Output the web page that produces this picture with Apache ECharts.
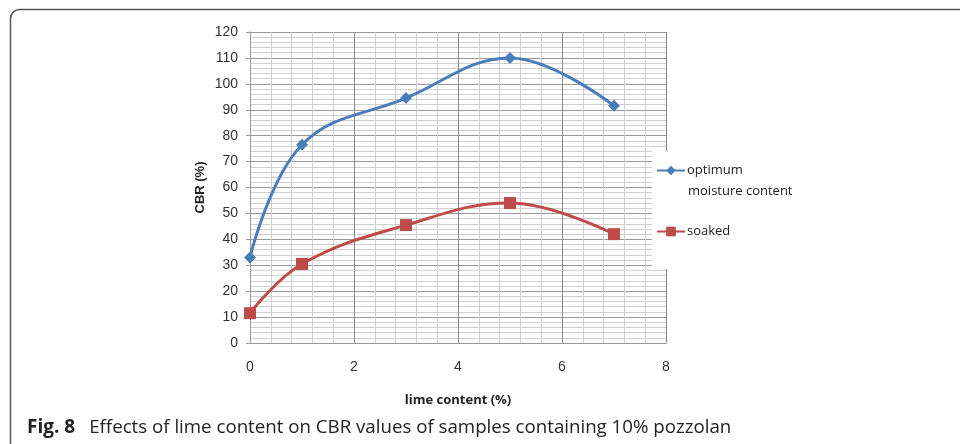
<!DOCTYPE html>
<html>
<head>
<meta charset="utf-8">
<script src="https://cdn.jsdelivr.net/npm/echarts@6/dist/echarts.min.js"></script>
<style>
  html, body { margin: 0; padding: 0; background: #fff; }
  #chart { width: 960px; height: 444px; }
</style>
</head>
<body>
<div id="chart"></div>
<script>
// lime content (%)
var limeContent = [0, 1, 3, 5, 7];
// CBR (%) at optimum moisture content
var optimumCBR = [33, 76.5, 94.5, 110, 91.5];
// CBR (%) soaked
var soakedCBR = [11.5, 30.5, 45.5, 54, 42];

var chart = echarts.init(document.getElementById('chart'));

function pairs(xs, ys) {
    return xs.map(function (x, i) { return [x, ys[i]]; });
}

var option = {
    animation: false,
    backgroundColor: '#fff',
    textStyle: { fontFamily: 'Liberation Sans, Arial, sans-serif' },
    graphic: [
        {
            type: 'rect',
            shape: { x: 10.5, y: 9.5, width: 1000, height: 500, r: 9 },
            style: { fill: 'none', stroke: '#555', lineWidth: 1.5 },
            silent: true
        },
        {
            // second line of the first legend entry
            type: 'text',
            left: 688,
            top: 185,
            z: 10,
            style: {
                text: 'moisture content',
                font: '13px "Open Sans", sans-serif',
                fill: '#222'
            }
        },
        {
            type: 'text',
            left: 27,
            top: 418,
            style: {
                text: '{b|Fig. 8}{t|Effects of lime content on CBR values of samples containing 10% pozzolan}',
                font: '18.7px "Open Sans", sans-serif',
                fill: '#222',
                rich: {
                    b: { font: 'bold 19px "Open Sans", sans-serif', fill: '#222', padding: [0, 14, 0, 0] },
                    t: { font: '18.7px "Open Sans", sans-serif', fill: '#222' }
                }
            }
        }
    ],
    grid: { left: 250, right: 294, top: 32, bottom: 101 },
    legend: {
        orient: 'vertical',
        left: 652,
        top: 151,
        padding: [13, 75, 31, 4],
        itemGap: 48,
        itemWidth: 28,
        itemHeight: 12,
        backgroundColor: '#fff',
        textStyle: { fontFamily: 'Open Sans, sans-serif', fontSize: 13, color: '#222', padding: [0, 0, 0, -3] },
        formatter: function (name) {
            return name === 'optimum moisture content' ? 'optimum' : name;
        },
        data: ['optimum moisture content', 'soaked']
    },
    xAxis: {
        type: 'value',
        min: 0,
        max: 8,
        interval: 2,
        name: 'lime content (%)',
        nameLocation: 'middle',
        nameGap: 51,
        nameTextStyle: { fontFamily: 'Open Sans, sans-serif', fontSize: 13, fontWeight: 'bold', color: '#222' },
        axisLine: { lineStyle: { color: '#999' } },
        axisTick: { show: false },
        axisLabel: { fontSize: 14, color: '#333', margin: 17 },
        splitLine: { show: true, lineStyle: { color: '#8a8a8a', width: 1 } },
        minorTick: { show: false, splitNumber: 5 },
        minorSplitLine: { show: true, lineStyle: { color: '#cfcfcf', width: 1 } }
    },
    yAxis: {
        type: 'value',
        min: 0,
        max: 120,
        interval: 10,
        name: 'CBR (%)',
        nameLocation: 'middle',
        nameGap: 43,
        nameTextStyle: { fontSize: 13, fontWeight: 'bold', color: '#222' },
        axisLine: { show: true, lineStyle: { color: '#999' } },
        axisTick: { show: true, length: 4, lineStyle: { color: '#999' } },
        axisLabel: { fontSize: 14, color: '#333', margin: 12 },
        splitLine: { show: true, lineStyle: { color: '#9a9a9a', width: 1 } },
        minorTick: { show: false, splitNumber: 5 },
        minorSplitLine: { show: true, lineStyle: { color: '#d0d0d0', width: 1 } }
    },
    series: [
        {
            name: 'optimum moisture content',
            type: 'line',
            smooth: 0.4,
            data: pairs(limeContent, optimumCBR),
            symbol: 'diamond',
            symbolSize: 12,
            itemStyle: { color: '#4a7ebb' },
            lineStyle: { color: '#4a7ebb', width: 3 }
        },
        {
            name: 'soaked',
            type: 'line',
            smooth: 0.4,
            data: pairs(limeContent, soakedCBR),
            symbol: 'rect',
            symbolSize: 12,
            itemStyle: { color: '#be4b48' },
            lineStyle: { color: '#be4b48', width: 3 }
        }
    ]
};

chart.setOption(option);
</script>
</body>
</html>
